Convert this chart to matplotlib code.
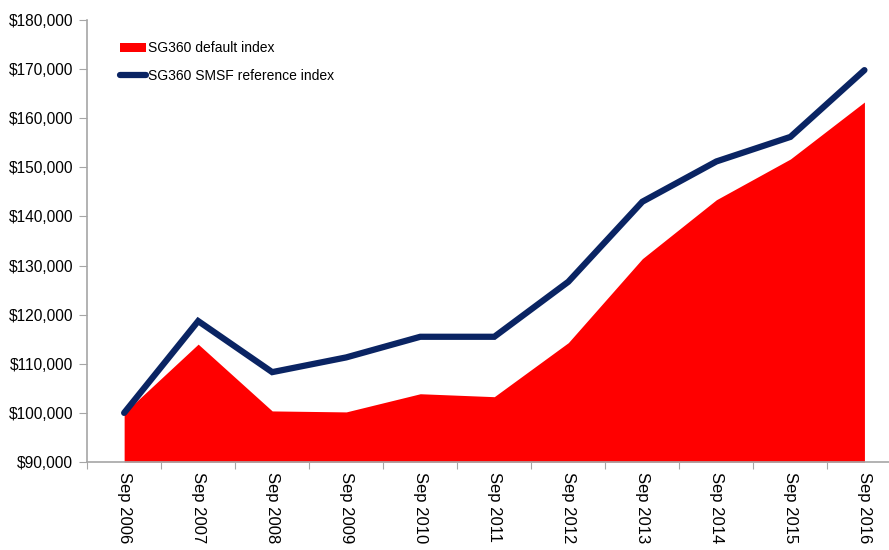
import numpy as np
import matplotlib.pyplot as plt
from matplotlib.patches import Patch
from matplotlib.lines import Line2D
from matplotlib.ticker import FuncFormatter

plt.rcParams['font.family'] = ['Liberation Sans', 'DejaVu Sans']

# data
years = ['Sep 2006', 'Sep 2007', 'Sep 2008', 'Sep 2009', 'Sep 2010', 'Sep 2011',
         'Sep 2012', 'Sep 2013', 'Sep 2014', 'Sep 2015', 'Sep 2016']
default_index = [100000, 114000, 100400, 100200, 103900, 103300,
                 114300, 131400, 143400, 151700, 163300]
smsf_index = [100000, 118700, 108300, 111300, 115500, 115500,
              126700, 143000, 151200, 156200, 169800]

fig = plt.figure(figsize=(8.89, 5.5), dpi=100, facecolor='white')
ax = fig.add_axes([0.098, 0.16, 0.916, 0.8036])

x = np.arange(len(years))
ax.fill_between(x, 90000, default_index, color='#ff0000', linewidth=0, zorder=1)
ax.plot(x, smsf_index, color='#0a2463', linewidth=4.5, solid_capstyle='round',
        solid_joinstyle='miter', zorder=2)

ax.set_xlim(-0.5, len(years) - 0.5)
ax.set_ylim(90000, 180000)
ax.set_yticks(np.arange(90000, 180001, 10000))
ax.yaxis.set_major_formatter(FuncFormatter(lambda v, p: f'${v:,.0f}'))

# category ticks sit between the categories
ax.set_xticks(np.arange(-0.5, len(years), 1.0))
ax.set_xticklabels([])
ax.set_xticks(x, minor=True)
ax.set_xticklabels(years, minor=True, rotation=270, fontsize=12)
ax.tick_params(axis='x', which='minor', length=0, pad=7)
ax.tick_params(axis='x', which='major', length=5, color='#a6a6a6', direction='out')
ax.tick_params(axis='y', length=6, color='#a6a6a6', labelsize=11.2, pad=4)

for s in ['top', 'right']:
    ax.spines[s].set_visible(False)
for s in ['left', 'bottom']:
    ax.spines[s].set_color('#a6a6a6')
    ax.spines[s].set_linewidth(1.2)

handles = [Patch(facecolor='#ff0000', label='SG360 default index'),
           Line2D([0], [0], color='#0a2463', linewidth=4.5, solid_capstyle='round',
                  label='SG360 SMSF reference index')]
ax.legend(handles=handles, loc='upper left', bbox_to_anchor=(0.025, 0.98),
          frameon=False, fontsize=10, handlelength=1.9, handletextpad=0.1,
          labelspacing=1.0)

plt.savefig('out.png', dpi=100, facecolor='white')
